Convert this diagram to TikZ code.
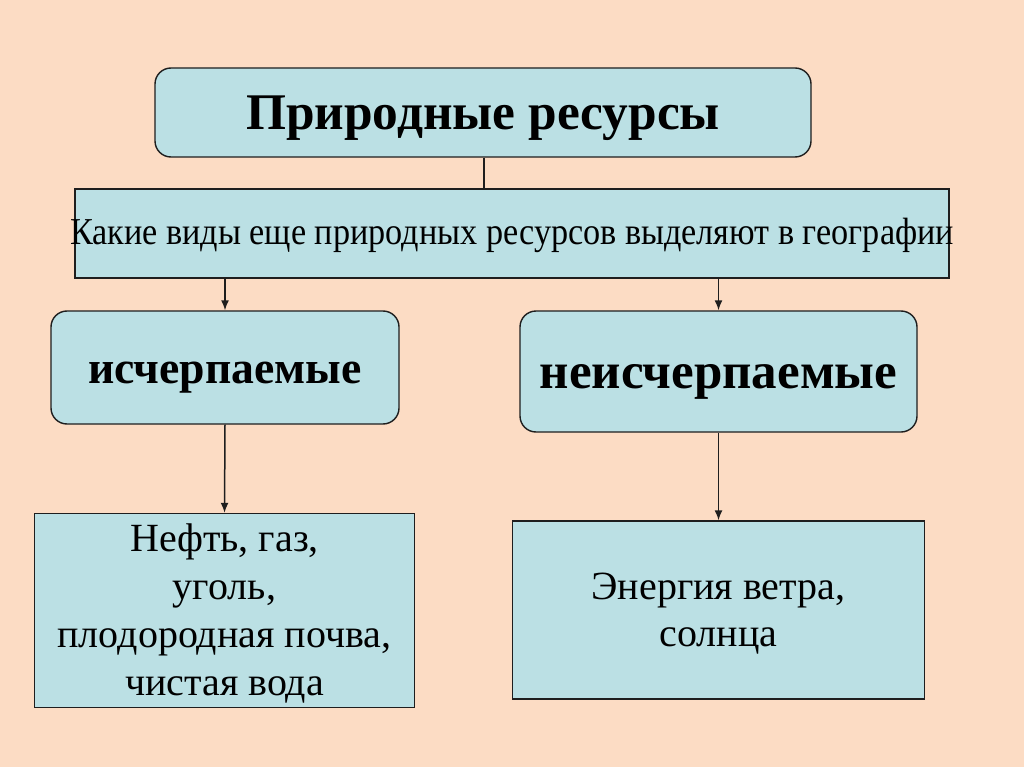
\documentclass[tikz,border=0pt]{standalone}
\usepackage{fontspec}
\setmainfont{Liberation Serif}
\newfontfamily\condserif[FakeStretch=0.9]{Liberation Serif}
\usetikzlibrary{arrows.meta}
\definecolor{bgpeach}{RGB}{252,220,196}
\definecolor{bgcream}{RGB}{253,233,202}
\definecolor{boxfill}{RGB}{187,224,228}
\definecolor{boxline}{RGB}{30,30,30}
\tikzset{
  rbox/.style={draw=boxline, line width=1.4pt, fill=boxfill, rounded corners=16pt, inner sep=0pt},
  sbox/.style={draw=boxline, line width=1.4pt, fill=boxfill, inner sep=0pt},
  txt/.style={inner sep=0pt, align=center},
  conn/.style={draw=boxline, line width=1.5pt},
  arr/.style={conn, -{Latex[length=10pt,width=8pt]}},
}
\begin{document}
\begin{tikzpicture}[x=1pt,y=-1pt]
\useasboundingbox (0,0) rectangle (1024,767);
\shade[top color=bgpeach, middle color=bgcream, bottom color=bgpeach] (0,0) rectangle (1024,767);

\node[rbox, minimum width=656pt, minimum height=89pt,
      label={[txt, yshift=-6pt, font=\fontsize{51.4}{60}\selectfont\bfseries]center:Природные ресурсы}] (top) at (483,112.5) {};

\node[sbox, minimum width=874pt, minimum height=89pt,
      label={[txt, yshift=-2pt, font=\fontsize{38}{44}\selectfont\condserif]center:Какие виды еще природных ресурсов выделяют в географии}] (q) at (512,233.5) {};

\node[rbox, minimum width=348pt, minimum height=113pt,
      label={[txt, yshift=-10pt, font=\fontsize{45.7}{52}\selectfont\bfseries]center:исчерпаемые}] (L) at (225,367.5) {};

\node[rbox, minimum width=397pt, minimum height=121pt,
      label={[txt, yshift=-10pt, font=\fontsize{51}{58}\selectfont\bfseries]center:неисчерпаемые}] (R) at (718.5,371.5) {};

\node[sbox, minimum width=380pt, minimum height=194pt,
      label={[txt, yshift=-3pt, font=\fontsize{40}{48}\selectfont]center:Нефть, газ,\\уголь,\\плодородная почва,\\чистая вода}] (BL) at (224.5,610.5) {};

\node[sbox, minimum width=412pt, minimum height=178pt,
      label={[txt, yshift=-4pt, font=\fontsize{40}{47}\selectfont]center:Энергия ветра,\\солнца}] (BR) at (718.5,610) {};

\draw[conn] (top.south -| 484,0) -- (q.north -| 484,0);
\draw[arr] (q.south -| L.north) -- (L.north);
\draw[arr] (q.south -| R.north) -- (R.north);
\draw[arr] (L.south) -- (BL.north);
\draw[arr] (R.south) -- (BR.north);
\end{tikzpicture}
\end{document}
